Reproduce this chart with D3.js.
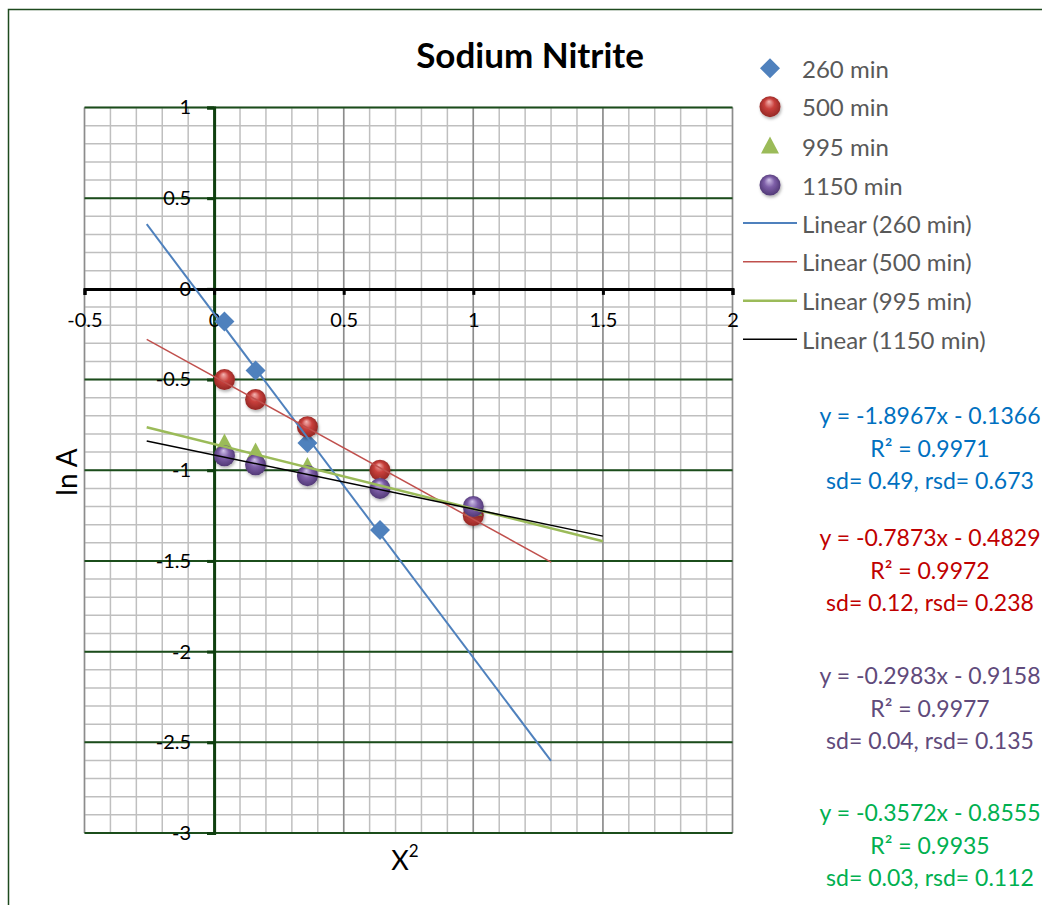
<!DOCTYPE html>
<html>
<head>
<meta charset="utf-8">
<script src="https://cdn.jsdelivr.net/npm/d3@7"></script>
<style>
  html, body { margin: 0; padding: 0; background: #fff; }
  svg { display: block; font-family: Lato, "Open Sans", sans-serif; }
</style>
</head>
<body>
<svg id="chart" width="1042" height="905"></svg>
<script>
// ---------- data ----------
const xValues = [0.04, 0.16, 0.36, 0.64, 1.0];
const seriesNames = ["260 min", "500 min", "995 min", "1150 min"];
const values260 = [-0.18, -0.45, -0.85, -1.33];
const values500 = [-0.50, -0.61, -0.76, -1.00, -1.25];
const values995 = [-0.85, -0.90, -0.98, -1.09, -1.21];
const values1150 = [-0.92, -0.97, -1.03, -1.10, -1.20];
const trendSlopes = [-1.8967, -0.7873, -0.3572, -0.2983];
const trendIntercepts = [-0.1366, -0.4829, -0.8555, -0.9158];
const trendStarts = [-0.26, -0.26, -0.26, -0.26];
const trendEnds = [1.3, 1.3, 1.5, 1.5];
const xTicks = [-0.5, 0, 0.5, 1, 1.5, 2];
const yTicks = [1, 0.5, 0, -0.5, -1, -1.5, -2, -2.5, -3];
const eqLines = [
  ["y = -1.8967x - 0.1366", "R\u00B2 = 0.9971", "sd= 0.49, rsd= 0.673"],
  ["y = -0.7873x - 0.4829", "R\u00B2 = 0.9972", "sd= 0.12, rsd= 0.238"],
  ["y = -0.2983x - 0.9158", "R\u00B2 = 0.9977", "sd= 0.04, rsd= 0.135"],
  ["y = -0.3572x - 0.8555", "R\u00B2 = 0.9935", "sd= 0.03, rsd= 0.112"]
];

// ---------- style ----------
const markerColors = ["#4F81BD", "#C0504D", "#9BBB59", "#8064A2"];
const trendColors = ["#4F81BD", "#C0504D", "#9BBB59", "#000000"];
const trendWidths = [2, 1.5, 2.5, 1.5];
const eqColors = ["#0070C0", "#C00000", "#604A7B", "#00B050"];

const svg = d3.select("#chart");
const x = d3.scaleLinear().domain([-0.5, 2]).range([84.5, 732.5]);
const y = d3.scaleLinear().domain([-3, 1]).range([833, 107.5]);
const fmt = d => String(d);

// defs: sphere gradients & shadow
const defs = svg.append("defs");
function sphereGrad(id, hi, base, edge) {
  const g = defs.append("radialGradient").attr("id", id)
    .attr("cx", "50%").attr("cy", "50%").attr("r", "55%")
    .attr("fx", "45%").attr("fy", "25%");
  g.append("stop").attr("offset", "0%").attr("stop-color", hi);
  g.append("stop").attr("offset", "45%").attr("stop-color", base);
  g.append("stop").attr("offset", "100%").attr("stop-color", edge);
}
sphereGrad("gRed", "#F4B5B3", "#C9403C", "#8E2522");
sphereGrad("gPurple", "#D2C4EA", "#7E5FA8", "#4C3470");
const f = defs.append("filter").attr("id", "shadow").attr("x", "-50%").attr("y", "-50%").attr("width", "200%").attr("height", "200%");
f.append("feDropShadow").attr("dx", 1).attr("dy", 2).attr("stdDeviation", 1.5).attr("flood-color", "#000").attr("flood-opacity", 0.3);

// chart border
svg.append("rect").attr("x", 8.5).attr("y", 9.5).attr("width", 1200).attr("height", 1200)
  .attr("fill", "none").attr("stroke", "#1E4A1E").attr("stroke-width", 1.5);

// minor grid
const minorX = d3.range(-5, 21).map(i => i / 10);
const minorY = d3.range(-30, 11).map(i => i / 10);
const grid = svg.append("g");
grid.selectAll(".mx").data(minorX).join("line")
  .attr("x1", d => x(d)).attr("x2", d => x(d)).attr("y1", y(1)).attr("y2", y(-3))
  .attr("stroke", "#BFBFBF").attr("stroke-width", 1.5);
grid.selectAll(".my").data(minorY).join("line")
  .attr("x1", x(-0.5)).attr("x2", x(2)).attr("y1", d => y(d)).attr("y2", d => y(d))
  .attr("stroke", "#BFBFBF").attr("stroke-width", 1.5);
// major vertical gridlines (gray)
grid.selectAll(".Mx").data(xTicks.filter(d => d !== 0)).join("line")
  .attr("x1", d => x(d)).attr("x2", d => x(d)).attr("y1", y(1)).attr("y2", y(-3))
  .attr("stroke", "#8C8C8C").attr("stroke-width", 1.5);
// major horizontal gridlines (dark green)
grid.selectAll(".My").data(yTicks.filter(d => d !== 0)).join("line")
  .attr("x1", x(-0.5)).attr("x2", x(2)).attr("y1", d => y(d)).attr("y2", d => y(d))
  .attr("stroke", "#1B4D1B").attr("stroke-width", 2);

// y axis (at x = 0)
const yAxis = svg.append("g").attr("transform", `translate(${x(0)},0)`)
  .call(d3.axisLeft(y).tickValues(yTicks).tickFormat(fmt).tickSize(7).tickPadding(16));
yAxis.select(".domain").attr("stroke", "#0F3F0F").attr("stroke-width", 3);
yAxis.selectAll(".tick line").attr("stroke", "#0F3F0F").attr("stroke-width", 3);
yAxis.selectAll(".tick text").attr("fill", "#000").attr("font-size", 20)
  .attr("font-family", "Lato, sans-serif");

// x axis (at y = 0)
const xAxis = svg.append("g").attr("transform", `translate(0,${y(0)})`)
  .call(d3.axisBottom(x).tickValues(xTicks).tickFormat(fmt).tickSize(6).tickPadding(18));
xAxis.select(".domain").attr("stroke", "#000").attr("stroke-width", 3);
xAxis.selectAll(".tick line").attr("stroke", "#000").attr("stroke-width", 3);
xAxis.selectAll(".tick text").attr("fill", "#000").attr("font-size", 20)
  .attr("font-family", "Lato, sans-serif");

// markers
const diamondPath = "M0,-10L10,0L0,10L-10,0Z";
const trianglePath = "M0,-9.5L9,7.5L-9,7.5Z";
const allSeries = [values260, values500, values995, values1150];
function drawMarker(g, i, cx, cy) {
  if (i === 0) {
    g.append("path").attr("d", diamondPath).attr("transform", `translate(${cx},${cy})`)
      .attr("fill", markerColors[0]);
  } else if (i === 2) {
    g.append("path").attr("d", trianglePath).attr("transform", `translate(${cx},${cy})`)
      .attr("fill", markerColors[2]);
  } else {
    g.append("circle").attr("cx", cx).attr("cy", cy).attr("r", 10.5)
      .attr("fill", i === 1 ? "url(#gRed)" : "url(#gPurple)").attr("filter", "url(#shadow)");
  }
}
const marks = svg.append("g");
allSeries.forEach((vals, i) => {
  vals.forEach((v, j) => drawMarker(marks, i, x(xValues[j]), y(v)));
});

// trendlines
const trends = svg.append("g");
trendSlopes.forEach((m, i) => {
  const x0 = trendStarts[i], x1 = trendEnds[i];
  trends.append("line")
    .attr("x1", x(x0)).attr("y1", y(m * x0 + trendIntercepts[i]))
    .attr("x2", x(x1)).attr("y2", y(m * x1 + trendIntercepts[i]))
    .attr("stroke", trendColors[i]).attr("stroke-width", trendWidths[i]);
});

// title
svg.append("text").attr("x", 530).attr("y", 54).attr("text-anchor", "middle")
  .attr("dominant-baseline", "central").attr("font-size", 35).attr("font-weight", "bold")
  .attr("fill", "#000").text("Sodium Nitrite");

// axis titles
svg.append("text").attr("transform", "translate(66,472) rotate(-90)")
  .attr("text-anchor", "middle").attr("dominant-baseline", "central")
  .attr("font-size", 28).attr("fill", "#000").text("ln A");
const xt = svg.append("text").attr("x", 405).attr("y", 859).attr("text-anchor", "middle")
  .attr("dominant-baseline", "central").attr("font-size", 27).attr("fill", "#000");
xt.append("tspan").text("X");
xt.append("tspan").attr("font-size", 17).attr("dy", -9).text("2");

// legend
const legend = svg.append("g");
const legRows = [68.3, 106.7, 146, 185, 223, 261.7, 300.7, 339.3];
seriesNames.forEach((name, i) => {
  drawMarker(legend, i, 770, legRows[i]);
  legend.append("text").attr("x", 802).attr("y", legRows[i]).attr("dominant-baseline", "central")
    .attr("font-size", 24).attr("fill", "#595959").text(name);
});
seriesNames.forEach((name, i) => {
  const ry = legRows[4 + i];
  legend.append("line").attr("x1", 743).attr("x2", 797).attr("y1", ry).attr("y2", ry)
    .attr("stroke", trendColors[i]).attr("stroke-width", trendWidths[i]);
  legend.append("text").attr("x", 802).attr("y", ry).attr("dominant-baseline", "central")
    .attr("font-size", 24).attr("fill", "#595959").text(`Linear (${name})`);
});

// equation labels
const eqTops = [415, 537, 675, 812];
const eqStep = 32.5;
eqLines.forEach((lines, i) => {
  lines.forEach((t, k) => {
    svg.append("text").attr("x", 930).attr("y", eqTops[i] + k * eqStep)
      .attr("text-anchor", "middle").attr("dominant-baseline", "central")
      .attr("font-size", 23).attr("fill", eqColors[i]).text(t);
  });
});
</script>
</body>
</html>
